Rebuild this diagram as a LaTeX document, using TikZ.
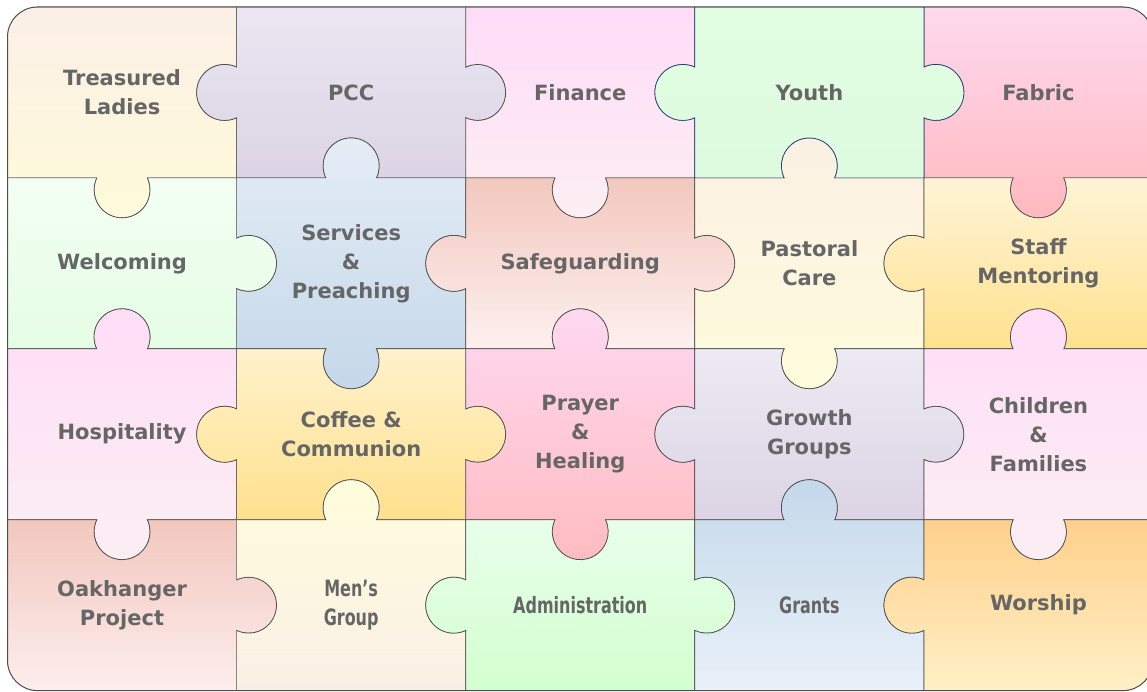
\documentclass[tikz,border=0pt]{standalone}
\usepackage{fontspec}
\setmainfont{DejaVu Sans}
\usepackage{graphicx}

\definecolor{txtgray}{HTML}{666666}
\definecolor{edgegray}{HTML}{4D4D4D}
\definecolor{youthline}{HTML}{1F3C78}
\definecolor{tlT}{HTML}{FBEFE6}     \definecolor{tlB}{HTML}{FFFBD9}
\definecolor{pccT}{HTML}{EAE7F2}    \definecolor{pccB}{HTML}{DCD4E4}
\definecolor{finT}{HTML}{FFDCF8}    \definecolor{finB}{HTML}{FCEFF2}
\definecolor{youthT}{HTML}{E2FEE2}  \definecolor{youthB}{HTML}{DFFBDF}
\definecolor{fabT}{HTML}{FFD9EE}    \definecolor{fabB}{HTML}{FFB8BE}
\definecolor{welT}{HTML}{F3FFF3}    \definecolor{welB}{HTML}{E5FDE5}
\definecolor{servT}{HTML}{E5EDF6}   \definecolor{servB}{HTML}{C4D7E9}
\definecolor{safeT}{HTML}{F2C8BE}   \definecolor{safeB}{HTML}{FDF0EF}
\definecolor{pastT}{HTML}{FBF0E4}   \definecolor{pastB}{HTML}{FFFCDB}
\definecolor{staffT}{HTML}{FFF4D6}  \definecolor{staffB}{HTML}{FFE18F}
\definecolor{hospT}{HTML}{FFDDF8}   \definecolor{hospB}{HTML}{FBEFF2}
\definecolor{coffeeT}{HTML}{FFF2CC} \definecolor{coffeeB}{HTML}{FFE08D}
\definecolor{prayerT}{HTML}{FFD9F2} \definecolor{prayerB}{HTML}{FFBBC0}
\definecolor{growthT}{HTML}{ECEAF3} \definecolor{growthB}{HTML}{DCD4E4}
\definecolor{childT}{HTML}{FFDDF8}  \definecolor{childB}{HTML}{FBEFF2}
\definecolor{oakT}{HTML}{F2C7BD}    \definecolor{oakB}{HTML}{FDEEEE}
\definecolor{menT}{HTML}{FFFDDC}    \definecolor{menB}{HTML}{FAEFE5}
\definecolor{adminT}{HTML}{E8FFEA}  \definecolor{adminB}{HTML}{D3FFCF}
\definecolor{grantsT}{HTML}{C4D8EA} \definecolor{grantsB}{HTML}{E9F1F9}
\definecolor{worT}{HTML}{FFD08C}    \definecolor{worB}{HTML}{FFF0C6}

\newcommand{\narrowtxt}[1]{\scalebox{0.71}[1]{\fontsize{22.5}{29}\selectfont #1}}
% #1 name, #2 col, #3 row, #4-#7 knobs bottom/right/top/left (1 out, -1 in, 0 none), #8 extra, #9 text
\newcommand{\piece}[9]{%
  \path[piece, top color=#1T, bottom color=#1B, #8] (#2,#3)
    -- ([shift={(180:25.3pt)}]#2+0.5,#3)
       arc[start angle={180-(#4)*25.4}, end angle={180+(#4)*205.4}, radius=28pt]
    -- (#2+1,#3)
    -- ([shift={(270:25.3pt)}]#2+1,#3+0.5)
       arc[start angle={270-(#5)*25.4}, end angle={270+(#5)*205.4}, radius=28pt]
    -- (#2+1,#3+1)
    -- ([shift={(0:25.3pt)}]#2+0.5,#3+1)
       arc[start angle={360-(#6)*25.4}, end angle={360+(#6)*205.4}, radius=28pt]
    -- (#2,#3+1)
    -- ([shift={(90:25.3pt)}]#2,#3+0.5)
       arc[start angle={450-(#7)*25.4}, end angle={450+(#7)*205.4}, radius=28pt]
    -- cycle;
  \node[lbl] (#1) at (#2+0.5,#3+0.5) {#9};
}

\begin{document}
\begin{tikzpicture}
\tikzstyle{piece}=[draw=edgegray, line width=0.7pt]
\tikzstyle{lbl}=[text=txtgray, font=\bfseries\fontsize{21}{29}\selectfont, align=center, inner sep=1pt]
\tikzstyle{border}=[draw=edgegray, line width=1pt, rounded corners=30pt]

\useasboundingbox (0,0) rectangle (1147pt,692pt);

\begin{scope}[shift={(7.5pt,1.4pt)}, x=229.1pt, y=170.9pt]
\begin{scope}
\clip[rounded corners=30pt] (0,0) rectangle (5,4);
% top row
\piece{tl}{0}{3}{1}{-1}{0}{0}{}{Treasured\\Ladies}
\piece{pcc}{1}{3}{-1}{1}{0}{1}{}{PCC}
\piece{fin}{2}{3}{1}{-1}{0}{-1}{}{Finance}
\piece{fab}{4}{3}{1}{0}{0}{-1}{}{Fabric}
% second row
\piece{wel}{0}{2}{-1}{1}{-1}{0}{}{Welcoming}
\piece{serv}{1}{2}{1}{-1}{1}{-1}{}{Services\\\&\\Preaching}
\piece{safe}{2}{2}{-1}{1}{-1}{1}{}{Safeguarding}
\piece{past}{3}{2}{1}{-1}{1}{-1}{}{Pastoral\\Care}
\piece{staff}{4}{2}{-1}{0}{-1}{1}{}{Staff\\Mentoring}
% third row
\piece{hosp}{0}{1}{1}{-1}{1}{0}{}{Hospitality}
\piece{coffee}{1}{1}{-1}{1}{-1}{1}{}{Coffee \&\\Communion}
\piece{prayer}{2}{1}{1}{-1}{1}{-1}{}{Prayer\\\&\\Healing}
\piece{growth}{3}{1}{-1}{1}{-1}{1}{}{Growth\\Groups}
\piece{child}{4}{1}{1}{0}{1}{-1}{}{Children\\\&\\Families}
% bottom row
\piece{oak}{0}{0}{0}{1}{-1}{0}{}{Oakhanger\\Project}
\piece{men}{1}{0}{0}{-1}{1}{-1}{}{\narrowtxt{Men’s}\\\narrowtxt{Group}}
\piece{admin}{2}{0}{0}{1}{-1}{1}{}{\narrowtxt{Administration}}
\piece{grants}{3}{0}{0}{-1}{1}{-1}{}{\narrowtxt{Grants}}
\piece{wor}{4}{0}{0}{0}{-1}{1}{}{Worship}
% youth last, its outline is blue
\piece{youth}{3}{3}{-1}{1}{0}{1}{draw=youthline}{Youth}
\end{scope}
\draw[border] (0,0) rectangle (5,4);
\end{scope}
\end{tikzpicture}
\end{document}
